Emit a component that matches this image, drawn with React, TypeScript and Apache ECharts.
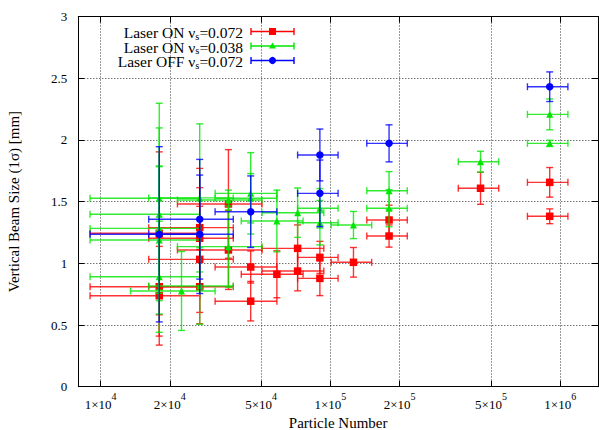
import { useEffect, useRef } from 'react';
import * as echarts from 'echarts';

const FONT = '"Liberation Serif", "Times New Roman", serif';
const RED = '#ff0000';
const GREEN = '#00e600';
const BLUE = '#0000ff';

// Laser ON, nu_s = 0.072
const redN = [18000, 18000, 18000, 27000, 27000, 27000, 27000, 36000, 36000, 45000, 45000, 58500, 72000, 72000, 90000, 90000, 126000, 180000, 180000, 450000, 900000, 900000];
const redNErr = [9000, 9000, 9000, 10800, 10800, 10800, 10800, 14400, 14400, 13500, 13500, 17550, 21600, 21600, 18000, 18000, 25200, 36000, 36000, 90000, 180000, 180000];
const redSize = [1.243, 0.81, 0.737, 1.289, 1.203, 1.032, 0.81, 1.481, 1.108, 0.97, 0.693, 0.911, 1.121, 0.937, 1.048, 0.878, 1.008, 1.351, 1.221, 1.608, 1.656, 1.381];
const redSizeErr = [0.66, 0.4, 0.4, 0.48, 0.41, 0.43, 0.3, 0.44, 0.32, 0.13, 0.16, 0.19, 0.19, 0.16, 0.13, 0.14, 0.12, 0.12, 0.09, 0.13, 0.12, 0.06];

// Laser ON, nu_s = 0.038
const greenN = [18000, 18000, 18000, 18000, 18000, 22500, 27000, 27000, 36000, 36000, 45000, 45000, 58500, 72000, 90000, 90000, 126000, 180000, 180000, 450000, 900000, 900000];
const greenNErr = [9000, 9000, 9000, 9000, 9000, 9000, 10800, 10800, 14400, 14400, 13500, 13500, 17550, 21600, 18000, 18000, 25200, 36000, 36000, 90000, 180000, 180000];
const greenSize = [1.527, 1.397, 1.283, 1.189, 0.891, 0.776, 1.53, 0.816, 1.513, 1.135, 1.567, 1.527, 1.343, 1.41, 1.446, 1.329, 1.31, 1.588, 1.446, 1.823, 2.207, 1.972];
const greenSizeErr = [0.77, 0.7, 0.5, 0.6, 0.45, 0.32, 0.6, 0.31, 0.08, 0.33, 0.33, 0.2, 0.25, 0.2, 0.16, 0.18, 0.11, 0.155, 0.15, 0.085, 0.125, 0.025];

// Laser OFF, nu_s = 0.072
const blueN = [18000, 27000, 27000, 45000, 90000, 90000, 180000, 900000];
const blueNErr = [9000, 10800, 10800, 13500, 18000, 18000, 36000, 180000];
const blueSize = [1.235, 1.357, 1.235, 1.418, 1.878, 1.567, 1.972, 2.431];
const blueSizeErr = [0.71, 0.485, 0.48, 0.29, 0.21, 0.27, 0.15, 0.12];

// x axis ticks: mantissa x 10^exponent
const tickMantissa = [1, 2, 5, 1, 2, 5, 1];
const tickExponent = [4, 4, 4, 5, 5, 5, 6];
const tickValues = tickMantissa.map((m, i) => m * Math.pow(10, tickExponent[i]));

const legendLabels = ['0.072', '0.038', '0.072'];
const legendPrefix = ['Laser ON ν', 'Laser ON ν', 'Laser OFF ν'];

const X_MIN = 8000;
const X_MAX = 1.46e6;

function errorBars(color: string) {
  return (_params: any, api: any) => {
    const x = api.value(0);
    const y = api.value(1);
    const dx = api.value(2);
    const dy = api.value(3);
    const p = api.coord([x, y]);
    const l = api.coord([x - dx, y]);
    const r = api.coord([x + dx, y]);
    const t = api.coord([x, y + dy]);
    const b = api.coord([x, y - dy]);
    const style = { stroke: color, lineWidth: 1.4, opacity: 0.8 };
    const cap = 3.5;
    const seg = (x1: number, y1: number, x2: number, y2: number) => ({
      type: 'line',
      shape: { x1, y1, x2, y2 },
      style,
    });
    return {
      type: 'group',
      children: [
        seg(l[0], p[1], r[0], p[1]),
        seg(l[0], p[1] - cap, l[0], p[1] + cap),
        seg(r[0], p[1] - cap, r[0], p[1] + cap),
        seg(t[0], t[1], b[0], b[1]),
        seg(t[0] - cap, t[1], t[0] + cap, t[1]),
        seg(b[0] - cap, b[1], b[0] + cap, b[1]),
      ],
    };
  };
}

function buildSeries(
  name: string,
  color: string,
  n: number[],
  nErr: number[],
  size: number[],
  sizeErr: number[],
  symbol: string,
  symbolSize: number,
  z: number
) {
  return [
    {
      type: 'custom',
      name: name + ' error',
      renderItem: errorBars(color),
      data: n.map((v, i) => [v, size[i], nErr[i], sizeErr[i]]),
      encode: { x: 0, y: 1 },
      z,
      silent: true,
    },
    {
      type: 'scatter',
      name,
      data: n.map((v, i) => [v, size[i]]),
      symbol,
      symbolSize,
      itemStyle: { color, opacity: 1 },
      z: z + 1,
      silent: true,
    },
  ];
}

const legendY = [31.5, 46, 60.5];
const legendColors = [RED, GREEN, BLUE];

function legendGraphics() {
  const items: any[] = [];
  const textRight = 243;
  const x1 = 251;
  const x2 = 294;
  const mx = 272.5;
  legendY.forEach((y, i) => {
    const color = legendColors[i];
    const stroke = { stroke: color, lineWidth: 1.4 };
    items.push({
      type: 'text',
      x: textRight,
      y: y + 1,
      style: {
        text: `{t|${legendPrefix[i]}}{s|s}{t|=${legendLabels[i]}}`,
        align: 'right',
        verticalAlign: 'middle',
        rich: {
          t: { fontSize: 15.5, fontFamily: FONT, fill: '#000', lineHeight: 18 },
          s: { fontSize: 10.5, fontFamily: FONT, fill: '#000', lineHeight: 9, verticalAlign: 'bottom' },
        },
      },
    });
    items.push({ type: 'line', shape: { x1, y1: y, x2, y2: y }, style: stroke });
    items.push({ type: 'line', shape: { x1, y1: y - 3.5, x2: x1, y2: y + 3.5 }, style: stroke });
    items.push({ type: 'line', shape: { x1: x2, y1: y - 3.5, x2, y2: y + 3.5 }, style: stroke });
    if (i === 0) {
      items.push({ type: 'rect', shape: { x: mx - 3.5, y: y - 3.5, width: 7, height: 7 }, style: { fill: color } });
    } else if (i === 1) {
      items.push({
        type: 'polygon',
        shape: { points: [[mx, y - 3.5], [mx - 3.5, y + 2.5], [mx + 3.5, y + 2.5]] },
        style: { fill: color },
      });
    } else {
      items.push({ type: 'circle', shape: { cx: mx, cy: y, r: 3.6 }, style: { fill: color } });
    }
  });
  return items;
}

const tickLabel = (v: number) => {
  const i = tickValues.findIndex((t) => Math.abs(t - v) / t < 1e-6);
  if (i < 0) return '';
  return `{m|${tickMantissa[i]}×10}{e|${tickExponent[i]}}`;
};

const axisText = { fontFamily: FONT, color: '#000' };

const option: any = {
  animation: false,
  backgroundColor: '#fff',
  grid: { left: 78.3, right: 1, top: 16.5, bottom: 43.3, outerBoundsMode: 'none', containLabel: false },
  xAxis: [
    {
      type: 'log',
      logBase: 10,
      min: X_MIN,
      max: X_MAX,
      name: 'Particle Number',
      nameLocation: 'middle',
      nameGap: 27,
      nameTextStyle: { ...axisText, fontSize: 15 },
      axisLine: { show: true, onZero: false, lineStyle: { color: '#000', width: 1 } },
      axisTick: { show: true, inside: true, length: 6, customValues: tickValues, lineStyle: { color: '#000' } },
      minorTick: { show: false },
      axisLabel: {
        customValues: tickValues,
        formatter: tickLabel,
        margin: 5,
        rich: {
          m: { ...axisText, fontSize: 13, lineHeight: 19, verticalAlign: 'bottom' },
          e: { ...axisText, fontSize: 10, lineHeight: 9, verticalAlign: 'top' },
        },
      },
      splitLine: { show: true, lineStyle: { color: '#333', width: 1, type: [1, 2] } },
    },
    {
      type: 'log',
      logBase: 10,
      min: X_MIN,
      max: X_MAX,
      position: 'top',
      axisLine: { show: true, onZero: false, lineStyle: { color: '#000', width: 1 } },
      axisTick: { show: true, inside: true, length: 6, customValues: tickValues, lineStyle: { color: '#000' } },
      axisLabel: { show: false },
      splitLine: { show: false },
    },
  ],
  yAxis: [
    {
      type: 'value',
      min: 0,
      max: 3,
      interval: 0.5,
      name: 'Vertical Beam Size (1σ) [mm]',
      nameLocation: 'middle',
      nameGap: 57,
      nameTextStyle: { ...axisText, fontSize: 15 },
      axisLine: { show: true, onZero: false, lineStyle: { color: '#000', width: 1 } },
      axisTick: { show: true, inside: true, length: 6, lineStyle: { color: '#000' } },
      axisLabel: { ...axisText, fontSize: 13, margin: 11, formatter: (v: number) => String(v) },
      splitLine: { show: true, lineStyle: { color: '#333', width: 1, type: [1, 2] } },
    },
    {
      type: 'value',
      min: 0,
      max: 3,
      interval: 0.5,
      position: 'right',
      axisLine: { show: true, onZero: false, lineStyle: { color: '#000', width: 1 } },
      axisTick: { show: true, inside: true, length: 6, lineStyle: { color: '#000' } },
      axisLabel: { show: false },
      splitLine: { show: false },
    },
  ],
  series: [
    ...buildSeries('Laser ON νs=0.072', RED, redN, redNErr, redSize, redSizeErr, 'rect', 7.5, 2),
    ...buildSeries('Laser ON νs=0.038', GREEN, greenN, greenNErr, greenSize, greenSizeErr, 'triangle', 7, 4),
    ...buildSeries('Laser OFF νs=0.072', BLUE, blueN, blueNErr, blueSize, blueSizeErr, 'circle', 7.5, 6),
  ],
  graphic: legendGraphics(),
};

export default function App() {
  const ref = useRef<HTMLDivElement>(null);
  useEffect(() => {
    const chart = echarts.init(ref.current!, null, { renderer: 'svg' });
    chart.setOption(option);
    return () => chart.dispose();
  }, []);
  return (
    <div
      ref={ref}
      style={{ position: 'absolute', left: 0, top: 0, width: 599, height: 430, background: '#fff' }}
    />
  );
}
